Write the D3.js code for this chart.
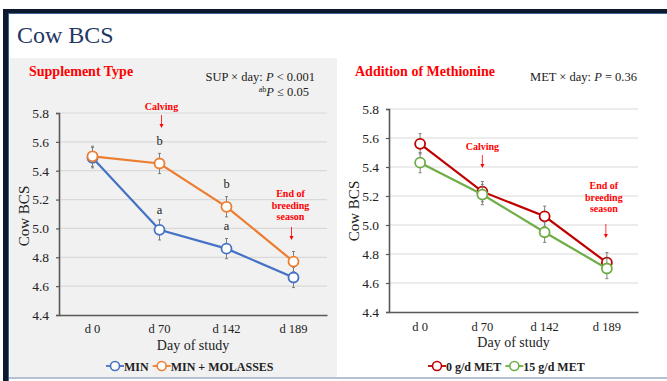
<!DOCTYPE html>
<html>
  <head>
    <meta charset="UTF-8">
    <script src="https://d3js.org/d3.v7.min.js"></script>
    <style>
        body { margin: 0; background: #fff; }
        svg { display: block; }
        text { font-family: 'Liberation Serif', 'Times New Roman', serif; }
        .axisTitle { font-size: 14px; fill: #222; }
        .panelTitle { font-size: 14px; font-weight: bold; fill: #ff0000; }
        .note { font-size: 10px; font-weight: bold; fill: #ff0000; text-anchor: middle; }
        .stat { font-size: 12.5px; fill: #222; text-anchor: end; }
        .letter { font-size: 12.5px; fill: #222; text-anchor: middle; }
        .legendText { font-size: 12px; font-weight: bold; fill: #222; }
    </style>
  </head>
  <body>
    <script>
        // data
        const days = ['d 0', 'd 70', 'd 142', 'd 189']
        const yTicks = [4.4, 4.6, 4.8, 5.0, 5.2, 5.4, 5.6, 5.8]

        const supNames = ['MIN', 'MIN + MOLASSES']
        const supColors = ['#4472c4', '#ed7d31']
        const minBCS = [5.49, 4.99, 4.86, 4.66]
        const molBCS = [5.50, 5.45, 5.15, 4.77]
        const minSE = [0.07, 0.07, 0.07, 0.07]
        const molSE = [0.07, 0.07, 0.07, 0.07]
        // letters: [day index, y value, text]
        const supLetters = [[1, 5.58, 'b'], [1, 5.10, 'a'], [2, 5.28, 'b'], [2, 4.99, 'a']]

        const metNames = ['0 g/d MET', '15 g/d MET']
        const metColors = ['#c00000', '#70ad47']
        const met0BCS = [5.56, 5.23, 5.06, 4.74]
        const met15BCS = [5.43, 5.21, 4.95, 4.70]
        const met0SE = [0.07, 0.07, 0.07, 0.07]
        const met15SE = [0.07, 0.07, 0.07, 0.07]

        const serif = "'Liberation Serif', 'Times New Roman', serif"

        let svg = d3.select('body').append('svg')
            .attr('width', 667)
            .attr('height', 381)

        // slide frame
        svg.append('rect').attr('x', 10).attr('y', 58).attr('width', 327).attr('height', 319).attr('fill', '#f1f1f1')
        svg.append('rect').attr('x', 3).attr('y', 9).attr('width', 664).attr('height', 4).attr('fill', '#0d1a2e')
        svg.append('rect').attr('x', 3).attr('y', 13).attr('width', 664).attr('height', 1).attr('fill', '#3d6299')
        svg.append('rect').attr('x', 3).attr('y', 9).attr('width', 5).attr('height', 372).attr('fill', '#0d1a2e')
        svg.append('rect').attr('x', 8).attr('y', 13).attr('width', 1).attr('height', 368).attr('fill', '#3d6299')
        svg.append('rect').attr('x', 9).attr('y', 377).attr('width', 658).attr('height', 2).attr('fill', '#b4c0d6')

        svg.append('text')
            .attr('x', 17).attr('y', 43)
            .style('font-size', '24px').style('fill', '#1f3864')
            .text('Cow BCS')

        let drawPanel = (opt) => {
            let x = d3.scaleBand().domain(days).range([opt.left, opt.right])
            let y = d3.scaleLinear().domain([4.4, 5.8]).range([opt.bottom, opt.top])
            let g = svg.append('g')

            // gridlines
            g.selectAll('.grid')
                .data(yTicks.filter(d => d > 4.4))
                .enter().append('line')
                .attr('x1', opt.left).attr('x2', opt.right)
                .attr('y1', d => y(d)).attr('y2', d => y(d))
                .attr('stroke', '#d9d9d9').attr('stroke-width', 1.2)

            // axes
            let yAxis = g.append('g')
                .attr('transform', `translate(${opt.left},0)`)
                .call(d3.axisLeft(y).tickValues(yTicks).tickSize(3).tickFormat(d3.format('.1f')))
            yAxis.select('.domain').attr('stroke', '#595959').attr('stroke-width', 1.6)
            yAxis.selectAll('.tick line').attr('stroke', '#595959').attr('stroke-width', 1.2)
            yAxis.selectAll('.tick text')
                .attr('x', -10)
                .style('font-family', serif)
                .style('font-size', '13.5px')
                .style('fill', '#222')

            let xAxis = g.append('g')
                .attr('transform', `translate(0,${opt.bottom})`)
                .call(d3.axisBottom(x).tickSize(0).tickPadding(opt.xPad))
            xAxis.select('.domain').attr('stroke', '#595959').attr('stroke-width', 1.6)
            xAxis.selectAll('.tick text')
                .style('font-family', serif)
                .style('font-size', '12.5px')
                .style('fill', '#222')

            g.append('text')
                .attr('class', 'axisTitle')
                .attr('text-anchor', 'middle')
                .attr('x', (opt.left + opt.right) / 2)
                .attr('y', opt.bottom + 35)
                .text('Day of study')

            g.append('text')
                .attr('class', 'axisTitle')
                .attr('text-anchor', 'middle')
                .attr('transform', `translate(${opt.yTitleX},${opt.yTitleY}) rotate(-90)`)
                .style('font-size', '15px')
                .text('Cow BCS')

            let cx = d => x(d) + x.bandwidth() / 2

            // series
            opt.series.forEach((s, si) => {
                let pts = days.map((d, i) => ({ d: d, v: s.values[i], se: s.se[i] }))
                let sg = g.append('g')
                sg.append('path')
                    .datum(pts)
                    .attr('fill', 'none')
                    .attr('stroke', s.color)
                    .attr('stroke-width', 2.2)
                    .attr('d', d3.line().x(p => cx(p.d)).y(p => y(p.v)))
                let eb = sg.selectAll('.eb').data(pts).enter().append('g')
                eb.append('line')
                    .attr('x1', p => cx(p.d)).attr('x2', p => cx(p.d))
                    .attr('y1', p => y(p.v - p.se)).attr('y2', p => y(p.v + p.se))
                    .attr('stroke', '#7f7f7f').attr('stroke-width', 1)
                ;[-1, 1].forEach(sign => {
                    eb.append('line')
                        .attr('x1', p => cx(p.d) - 1.5).attr('x2', p => cx(p.d) + 1.5)
                        .attr('y1', p => y(p.v + sign * p.se)).attr('y2', p => y(p.v + sign * p.se))
                        .attr('stroke', '#7f7f7f').attr('stroke-width', 1)
                })
                sg.selectAll('.pt').data(pts).enter().append('circle')
                    .attr('cx', p => cx(p.d)).attr('cy', p => y(p.v))
                    .attr('r', 5)
                    .attr('fill', '#fff')
                    .attr('stroke', s.color)
                    .attr('stroke-width', 1.8)
            })

            // annotations
            let arrow = (ax, y1, y2) => {
                g.append('line')
                    .attr('x1', ax).attr('x2', ax).attr('y1', y1).attr('y2', y2 - 3)
                    .attr('stroke', '#ff0000').attr('stroke-width', 0.8)
                g.append('path')
                    .attr('d', `M${ax - 2},${y2 - 4}L${ax + 2},${y2 - 4}L${ax},${y2}Z`)
                    .attr('fill', '#ff0000')
            }
            let calvX = cx(days[1]) + opt.calvDx
            g.append('text').attr('class', 'note').attr('x', calvX).attr('y', opt.calvY).text('Calving')
            arrow(calvX, opt.calvY + 5, opt.calvY + 18)

            let endX = cx(days[3]) + opt.endDx
            ;['End of', 'breeding', 'season'].forEach((t, i) => {
                g.append('text').attr('class', 'note').attr('x', endX).attr('y', opt.endY + i * 11.5).text(t)
            })
            arrow(endX + opt.endArrowDx, opt.endArrowY1, opt.endArrowY2)

            g.append('text')
                .attr('class', 'panelTitle')
                .attr('x', opt.titleX).attr('y', 76)
                .text(opt.title)

            // legend
            let lg = g.append('g').attr('transform', `translate(${opt.legendX},366)`)
            let lx = 0
            opt.series.forEach(s => {
                lg.append('line').attr('x1', lx).attr('x2', lx + 18).attr('y1', 0).attr('y2', 0)
                    .attr('stroke', s.color).attr('stroke-width', 1.8)
                lg.append('circle').attr('cx', lx + 9).attr('cy', 0).attr('r', 4.5)
                    .attr('fill', '#fff').attr('stroke', s.color).attr('stroke-width', 1.6)
                let t = lg.append('text').attr('class', 'legendText').attr('x', lx + 18).attr('y', 4.5).text(s.name)
                lx += 18 + t.node().getComputedTextLength() + 4
            })

            return { x: x, y: y, g: g, cx: cx }
        }

        let left = drawPanel({
            left: 59, right: 327, top: 113, bottom: 315, yTitleX: 29, yTitleY: 216, xPad: 9,
            title: 'Supplement Type', titleX: 29,
            series: [
                { name: supNames[0], color: supColors[0], values: minBCS, se: minSE },
                { name: supNames[1], color: supColors[1], values: molBCS, se: molSE }
            ],
            calvDx: 2, calvY: 110,
            endDx: -3, endY: 197, endArrowDx: 1, endArrowY1: 227, endArrowY2: 240,
            legendX: 106
        })

        left.g.selectAll('.letterLbl')
            .data(supLetters)
            .enter().append('text')
            .attr('class', 'letter')
            .attr('x', d => left.cx(days[d[0]]))
            .attr('y', d => left.y(d[1]))
            .text(d => d[2])

        left.g.append('text').attr('class', 'stat').attr('x', 315).attr('y', 81)
            .html('SUP × day: <tspan font-style="italic">P</tspan> &lt; 0.001')
        left.g.append('text').attr('class', 'stat').attr('x', 309).attr('y', 96)
            .html('<tspan font-size="8px" dy="-4">ab</tspan><tspan font-style="italic" dy="4">P</tspan> ≤ 0.05')

        let right = drawPanel({
            left: 389, right: 638, top: 109, bottom: 312, yTitleX: 359, yTitleY: 211, xPad: 10,
            title: 'Addition of Methionine', titleX: 355,
            series: [
                { name: metNames[0], color: metColors[0], values: met0BCS, se: met0SE },
                { name: metNames[1], color: metColors[1], values: met15BCS, se: met15SE }
            ],
            calvDx: 0, calvY: 150,
            endDx: -3, endY: 189, endArrowDx: 2, endArrowY1: 224, endArrowY2: 238,
            legendX: 428
        })

        right.g.append('text').attr('class', 'stat').attr('x', 637).attr('y', 81)
            .html('MET × day: <tspan font-style="italic">P</tspan> = 0.36')
    </script>
  </body>
</html>
